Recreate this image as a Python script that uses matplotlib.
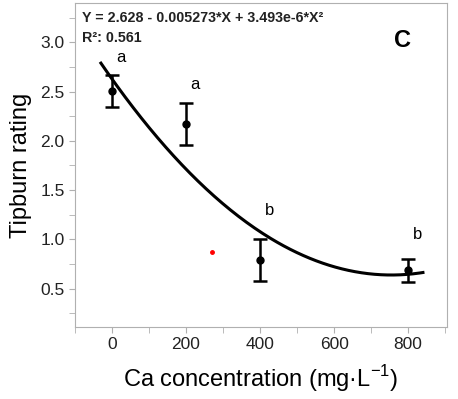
import numpy as np
import matplotlib.pyplot as plt
from matplotlib.ticker import MultipleLocator

plt.rcParams['font.family'] = ['Liberation Sans', 'DejaVu Sans']
plt.rcParams['mathtext.fontset'] = 'custom'
plt.rcParams['mathtext.rm'] = 'Liberation Sans'

# Ca concentration (mg/L) and tipburn rating
ca = [0, 200, 400, 800]
rating = [2.51, 2.17, 0.79, 0.69]
err_low = [0.17, 0.21, 0.21, 0.12]
err_high = [0.16, 0.21, 0.21, 0.11]
letters = ["a", "a", "b", "b"]
letter_y = [2.85, 2.57, 1.29, 1.05]

# quadratic fit coefficients
b0, b1, b2 = 2.628, -0.005273, 3.493e-6

fig = plt.figure(figsize=(4.58, 3.99), dpi=100)
ax = fig.add_axes([75/458, 1 - 327/399, 372/458, 324/399])

xs = np.linspace(-30, 840, 200)
ax.plot(xs, b0 + b1*xs + b2*xs**2, color='black', lw=2.2)

ax.errorbar(ca, rating, yerr=[err_low, err_high], fmt='o', color='black',
            ms=5, elinewidth=1.8, capsize=5, capthick=1.8)

for x, ly, lab in zip(ca, letter_y, letters):
    ax.text(x + 25, ly, lab, fontsize=12, ha='center', va='center')

# stray red dot seen in the reference
ax.plot([269], [0.87], 'o', color='red', ms=2.5)

ax.text(0.018, 0.975, "Y = 2.628 - 0.005273*X + 3.493e-6*X²", transform=ax.transAxes,
        fontsize=10.3, fontweight='bold', va='top', color='#222222')
ax.text(0.018, 0.915, "R²: 0.561", transform=ax.transAxes,
        fontsize=10.3, fontweight='bold', va='top', color='#222222')
ax.text(0.88, 0.92, "C", transform=ax.transAxes, fontsize=17,
        fontweight='bold', va='top', ha='center')

ax.set_xlim(-100, 905)
ax.set_ylim(0.11, 3.4)
ax.xaxis.set_minor_locator(MultipleLocator(100))
ax.yaxis.set_minor_locator(MultipleLocator(0.25))
ax.set_xticks(np.arange(0, 801, 200))
ax.set_yticks(np.arange(0.5, 3.01, 0.5))
ax.set_yticklabels(["%.1f" % v for v in np.arange(0.5, 3.01, 0.5)])

for s in ax.spines.values():
    s.set_color('#b0b0b0')
ax.tick_params(which='both', color='#b0b0b0', length=4, labelsize=12.5,
               labelcolor='#222222')

ax.set_xlabel("Ca concentration (mg·L$^{-1}$)", fontsize=17, labelpad=8)
ax.set_ylabel("Tipburn rating", fontsize=17, labelpad=6)

fig.savefig("out.png", dpi=100)
